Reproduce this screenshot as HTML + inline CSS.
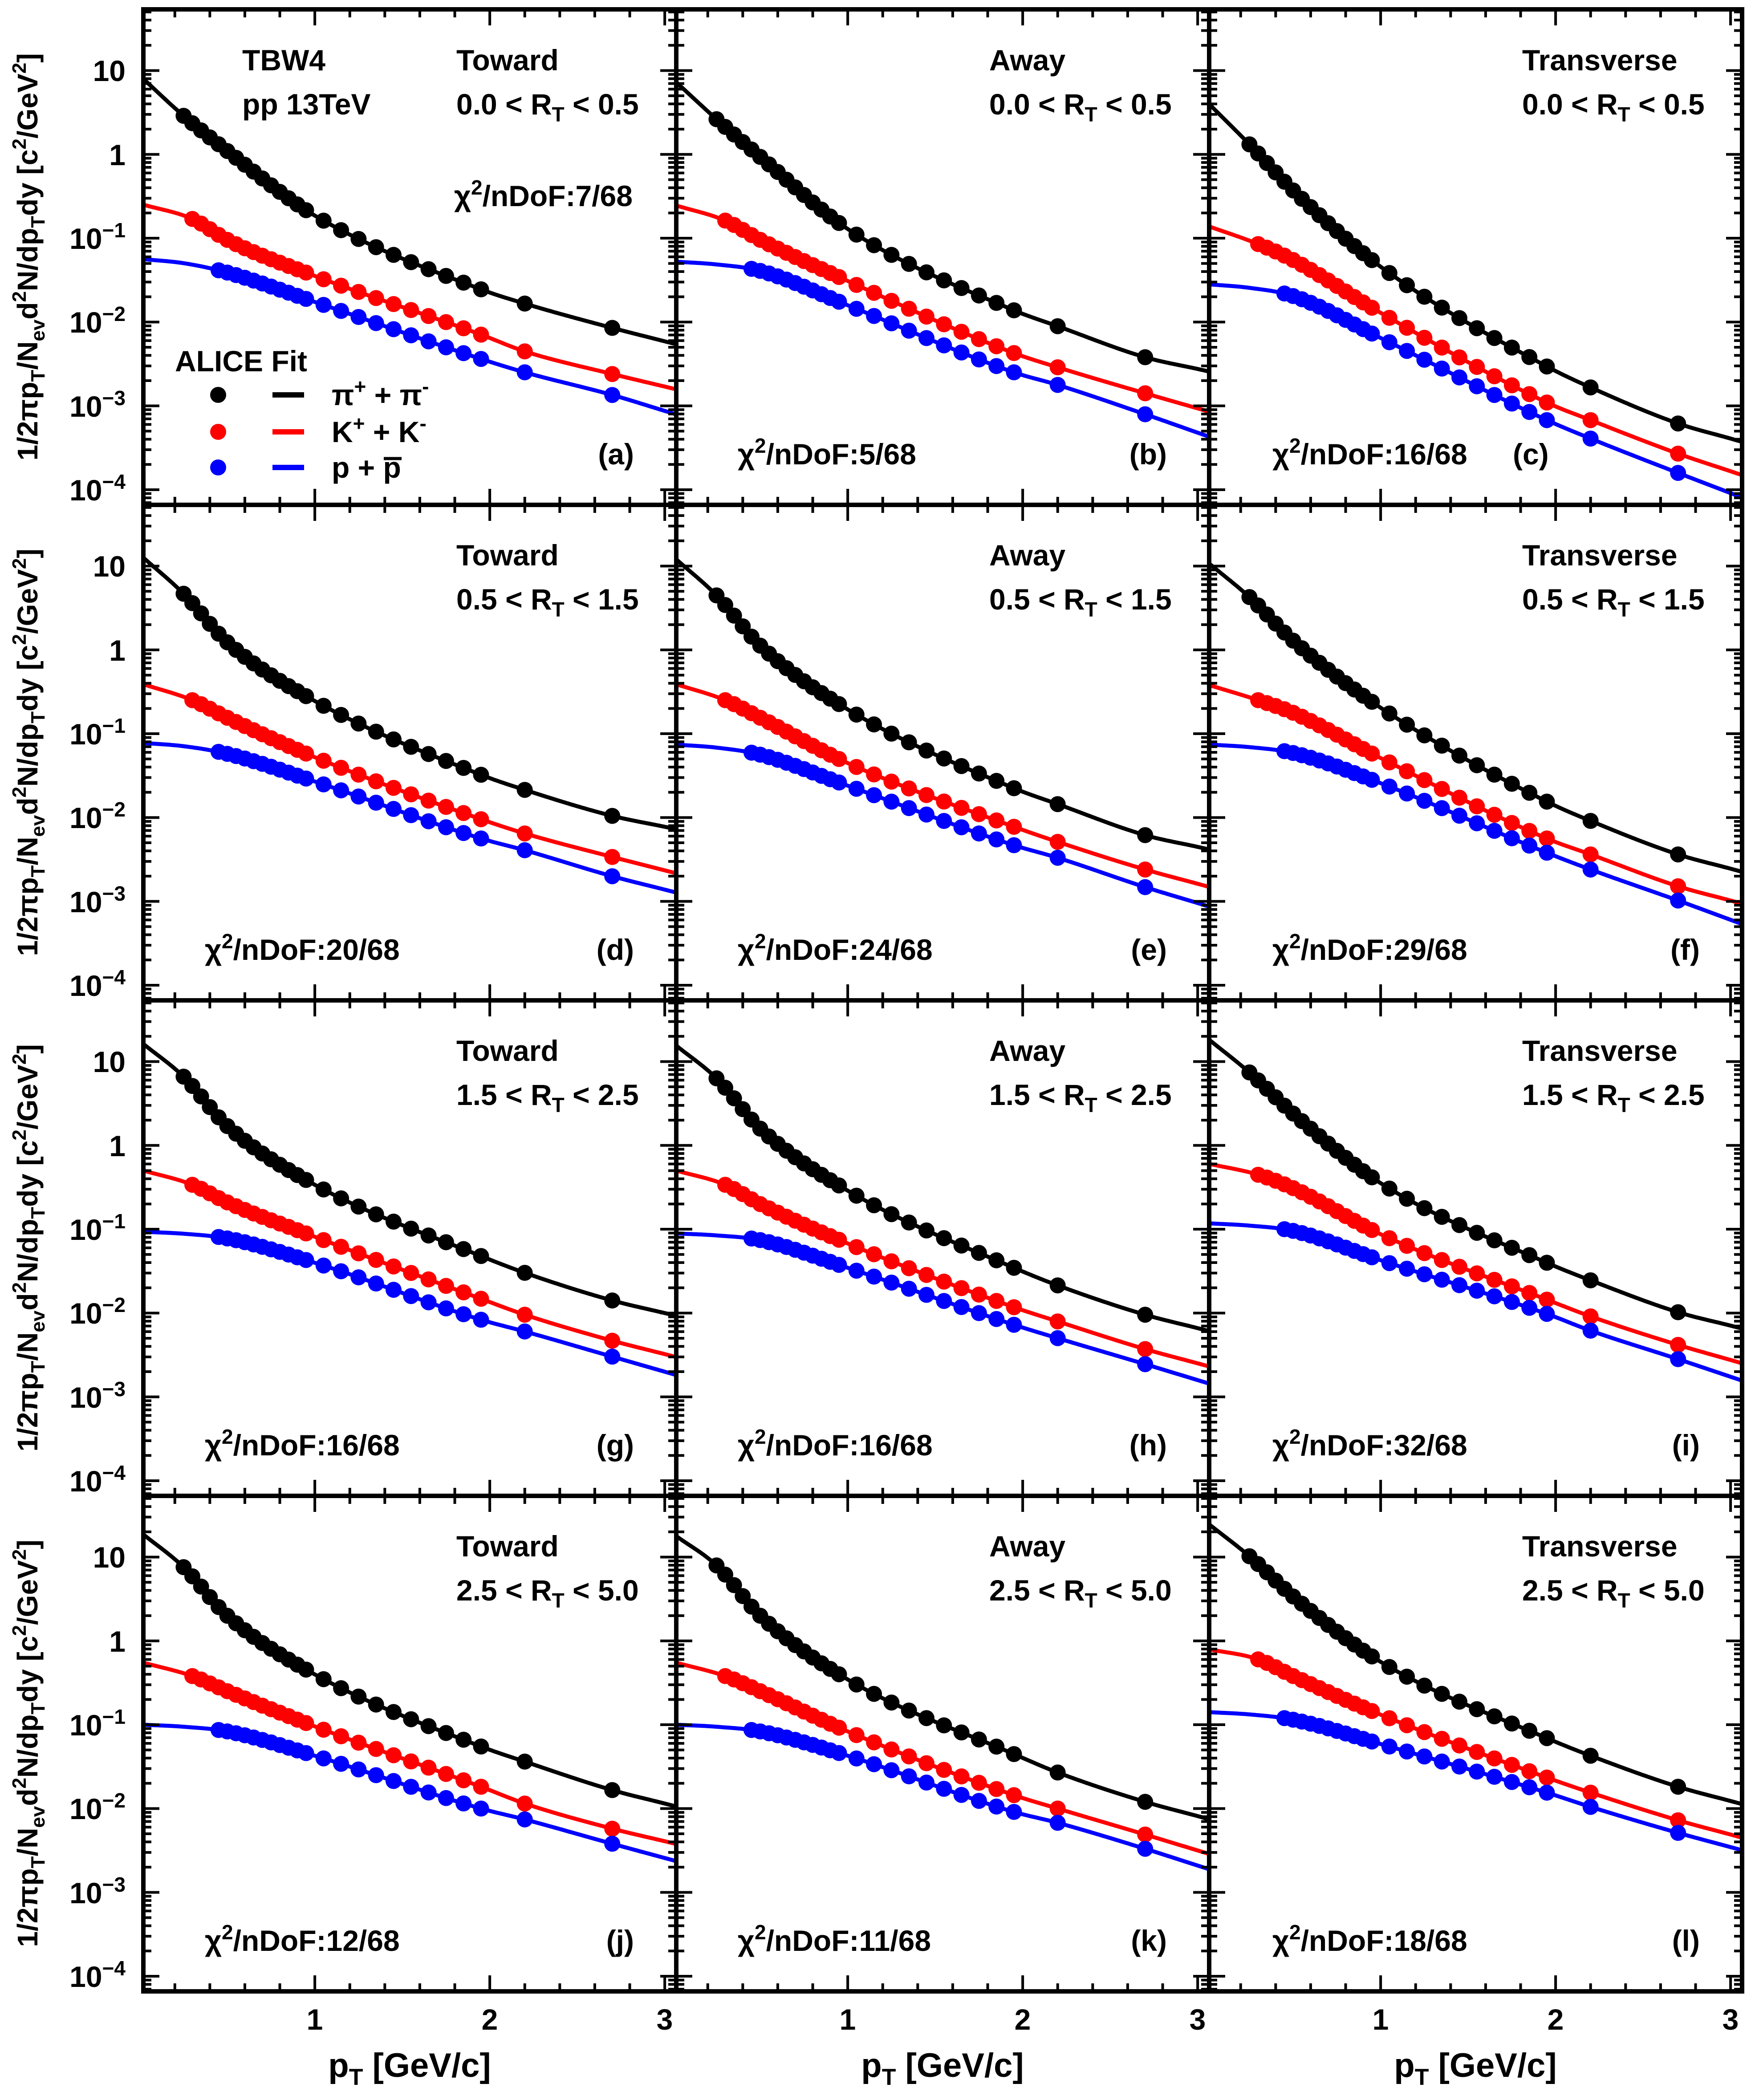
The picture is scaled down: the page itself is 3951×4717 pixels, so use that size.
<!DOCTYPE html>
<html><head><meta charset="utf-8"><style>
html,body{margin:0;padding:0;background:#fff;}
svg{display:block;}
text{font-family:"Liberation Sans",Arial,sans-serif;font-weight:bold;fill:#000;}
</style></head><body>
<svg id="s" xmlns="http://www.w3.org/2000/svg" width="3951" height="4717" viewBox="0 0 3951 4717">
<rect width="3951" height="4717" fill="#fff"/>
<g id="plot"></g>
<g font-size="66">
<text x="1025" y="158">Toward</text><text x="1025" y="257">0.0 &lt; R<tspan dy="16" font-size="46">T</tspan><tspan dy="-16"> &lt; 0.5</tspan></text>
<text x="2222" y="158">Away</text><text x="2222" y="257">0.0 &lt; R<tspan dy="16" font-size="46">T</tspan><tspan dy="-16"> &lt; 0.5</tspan></text>
<text x="3419" y="158">Transverse</text><text x="3419" y="257">0.0 &lt; R<tspan dy="16" font-size="46">T</tspan><tspan dy="-16"> &lt; 0.5</tspan></text>

<text x="1025" y="1270">Toward</text><text x="1025" y="1369">0.5 &lt; R<tspan dy="16" font-size="46">T</tspan><tspan dy="-16"> &lt; 1.5</tspan></text>
<text x="2222" y="1270">Away</text><text x="2222" y="1369">0.5 &lt; R<tspan dy="16" font-size="46">T</tspan><tspan dy="-16"> &lt; 1.5</tspan></text>
<text x="3419" y="1270">Transverse</text><text x="3419" y="1369">0.5 &lt; R<tspan dy="16" font-size="46">T</tspan><tspan dy="-16"> &lt; 1.5</tspan></text>

<text x="1025" y="2383">Toward</text><text x="1025" y="2482">1.5 &lt; R<tspan dy="16" font-size="46">T</tspan><tspan dy="-16"> &lt; 2.5</tspan></text>
<text x="2222" y="2383">Away</text><text x="2222" y="2482">1.5 &lt; R<tspan dy="16" font-size="46">T</tspan><tspan dy="-16"> &lt; 2.5</tspan></text>
<text x="3419" y="2383">Transverse</text><text x="3419" y="2482">1.5 &lt; R<tspan dy="16" font-size="46">T</tspan><tspan dy="-16"> &lt; 2.5</tspan></text>

<text x="1025" y="3496">Toward</text><text x="1025" y="3595">2.5 &lt; R<tspan dy="16" font-size="46">T</tspan><tspan dy="-16"> &lt; 5.0</tspan></text>
<text x="2222" y="3496">Away</text><text x="2222" y="3595">2.5 &lt; R<tspan dy="16" font-size="46">T</tspan><tspan dy="-16"> &lt; 5.0</tspan></text>
<text x="3419" y="3496">Transverse</text><text x="3419" y="3595">2.5 &lt; R<tspan dy="16" font-size="46">T</tspan><tspan dy="-16"> &lt; 5.0</tspan></text>

<text x="544" y="158">TBW4</text><text x="544" y="257">pp 13TeV</text>

<text x="1020" y="463">χ<tspan dy="-26" font-size="46">2</tspan><tspan dy="26">/nDoF:7/68</tspan></text>
<text x="1657" y="1043">χ<tspan dy="-26" font-size="46">2</tspan><tspan dy="26">/nDoF:5/68</tspan></text>
<text x="2858" y="1043">χ<tspan dy="-26" font-size="46">2</tspan><tspan dy="26">/nDoF:16/68</tspan></text>
<text x="460" y="2156">χ<tspan dy="-26" font-size="46">2</tspan><tspan dy="26">/nDoF:20/68</tspan></text>
<text x="1657" y="2156">χ<tspan dy="-26" font-size="46">2</tspan><tspan dy="26">/nDoF:24/68</tspan></text>
<text x="2858" y="2156">χ<tspan dy="-26" font-size="46">2</tspan><tspan dy="26">/nDoF:29/68</tspan></text>
<text x="460" y="3269">χ<tspan dy="-26" font-size="46">2</tspan><tspan dy="26">/nDoF:16/68</tspan></text>
<text x="1657" y="3269">χ<tspan dy="-26" font-size="46">2</tspan><tspan dy="26">/nDoF:16/68</tspan></text>
<text x="2858" y="3269">χ<tspan dy="-26" font-size="46">2</tspan><tspan dy="26">/nDoF:32/68</tspan></text>
<text x="460" y="4382">χ<tspan dy="-26" font-size="46">2</tspan><tspan dy="26">/nDoF:12/68</tspan></text>
<text x="1657" y="4382">χ<tspan dy="-26" font-size="46">2</tspan><tspan dy="26">/nDoF:11/68</tspan></text>
<text x="2858" y="4382">χ<tspan dy="-26" font-size="46">2</tspan><tspan dy="26">/nDoF:18/68</tspan></text>

<text x="1424" y="1043" text-anchor="end">(a)</text>
<text x="2621" y="1043" text-anchor="end">(b)</text>
<text x="3398" y="1043">(c)</text>
<text x="1424" y="2156" text-anchor="end">(d)</text>
<text x="2621" y="2156" text-anchor="end">(e)</text>
<text x="3818" y="2156" text-anchor="end">(f)</text>
<text x="1424" y="3269" text-anchor="end">(g)</text>
<text x="2621" y="3269" text-anchor="end">(h)</text>
<text x="3818" y="3269" text-anchor="end">(i)</text>
<text x="1424" y="4382" text-anchor="end">(j)</text>
<text x="2621" y="4382" text-anchor="end">(k)</text>
<text x="3818" y="4382" text-anchor="end">(l)</text>

<text x="393" y="834">ALICE  Fit</text>
<text x="745" y="910">π<tspan dy="-26" font-size="46">+</tspan><tspan dy="26"> + π</tspan><tspan dy="-26" font-size="46">-</tspan></text>
<text x="745" y="993">K<tspan dy="-26" font-size="46">+</tspan><tspan dy="26"> + K</tspan><tspan dy="-26" font-size="46">-</tspan></text>
<text x="745" y="1073">p + p</text>
</g>
<line x1="862" y1="1030" x2="902" y2="1030" stroke="#000" stroke-width="7"/>

<g font-size="66" text-anchor="end">
<text x="282" y="182">10</text><text x="282" y="371">1</text>
<text x="282" y="559">10<tspan dy="-26" font-size="46">−1</tspan></text>
<text x="282" y="747">10<tspan dy="-26" font-size="46">−2</tspan></text>
<text x="282" y="936">10<tspan dy="-26" font-size="46">−3</tspan></text>
<text x="282" y="1124">10<tspan dy="-26" font-size="46">−4</tspan></text>

<text x="282" y="1295">10</text><text x="282" y="1484">1</text>
<text x="282" y="1672">10<tspan dy="-26" font-size="46">−1</tspan></text>
<text x="282" y="1860">10<tspan dy="-26" font-size="46">−2</tspan></text>
<text x="282" y="2049">10<tspan dy="-26" font-size="46">−3</tspan></text>
<text x="282" y="2237">10<tspan dy="-26" font-size="46">−4</tspan></text>

<text x="282" y="2408">10</text><text x="282" y="2597">1</text>
<text x="282" y="2785">10<tspan dy="-26" font-size="46">−1</tspan></text>
<text x="282" y="2973">10<tspan dy="-26" font-size="46">−2</tspan></text>
<text x="282" y="3162">10<tspan dy="-26" font-size="46">−3</tspan></text>
<text x="282" y="3350">10<tspan dy="-26" font-size="46">−4</tspan></text>

<text x="282" y="3521">10</text><text x="282" y="3710">1</text>
<text x="282" y="3898">10<tspan dy="-26" font-size="46">−1</tspan></text>
<text x="282" y="4086">10<tspan dy="-26" font-size="46">−2</tspan></text>
<text x="282" y="4275">10<tspan dy="-26" font-size="46">−3</tspan></text>
<text x="282" y="4463">10<tspan dy="-26" font-size="46">−4</tspan></text>
</g>

<g font-size="66" text-anchor="middle">
<text x="707" y="4559">1</text><text x="1100" y="4559">2</text><text x="1493" y="4559">3</text>
<text x="1904" y="4559">1</text><text x="2297" y="4559">2</text><text x="2690" y="4559">3</text>
<text x="3101" y="4559">1</text><text x="3494" y="4559">2</text><text x="3887" y="4559">3</text>
</g>
<g font-size="76" text-anchor="middle">
<text x="920" y="4665">p<tspan dy="18" font-size="52">T</tspan><tspan dy="-18"> [GeV/c]</tspan></text>
<text x="2117" y="4665">p<tspan dy="18" font-size="52">T</tspan><tspan dy="-18"> [GeV/c]</tspan></text>
<text x="3314" y="4665">p<tspan dy="18" font-size="52">T</tspan><tspan dy="-18"> [GeV/c]</tspan></text>
</g>

<g font-size="64" text-anchor="middle">
<text transform="translate(84,577) rotate(-90)">1/2πp<tspan dy="16" font-size="44">T</tspan><tspan dy="-16">/N</tspan><tspan dy="16" font-size="44">ev</tspan><tspan dy="-16">d</tspan><tspan dy="-26" font-size="44">2</tspan><tspan dy="26">N/dp</tspan><tspan dy="16" font-size="44">T</tspan><tspan dy="-16">dy [c</tspan><tspan dy="-26" font-size="44">2</tspan><tspan dy="26">/GeV</tspan><tspan dy="-26" font-size="44">2</tspan><tspan dy="26">]</tspan></text>
<text transform="translate(84,1690) rotate(-90)">1/2πp<tspan dy="16" font-size="44">T</tspan><tspan dy="-16">/N</tspan><tspan dy="16" font-size="44">ev</tspan><tspan dy="-16">d</tspan><tspan dy="-26" font-size="44">2</tspan><tspan dy="26">N/dp</tspan><tspan dy="16" font-size="44">T</tspan><tspan dy="-16">dy [c</tspan><tspan dy="-26" font-size="44">2</tspan><tspan dy="26">/GeV</tspan><tspan dy="-26" font-size="44">2</tspan><tspan dy="26">]</tspan></text>
<text transform="translate(84,2803) rotate(-90)">1/2πp<tspan dy="16" font-size="44">T</tspan><tspan dy="-16">/N</tspan><tspan dy="16" font-size="44">ev</tspan><tspan dy="-16">d</tspan><tspan dy="-26" font-size="44">2</tspan><tspan dy="26">N/dp</tspan><tspan dy="16" font-size="44">T</tspan><tspan dy="-16">dy [c</tspan><tspan dy="-26" font-size="44">2</tspan><tspan dy="26">/GeV</tspan><tspan dy="-26" font-size="44">2</tspan><tspan dy="26">]</tspan></text>
<text transform="translate(84,3916) rotate(-90)">1/2πp<tspan dy="16" font-size="44">T</tspan><tspan dy="-16">/N</tspan><tspan dy="16" font-size="44">ev</tspan><tspan dy="-16">d</tspan><tspan dy="-26" font-size="44">2</tspan><tspan dy="26">N/dp</tspan><tspan dy="16" font-size="44">T</tspan><tspan dy="-16">dy [c</tspan><tspan dy="-26" font-size="44">2</tspan><tspan dy="26">/GeV</tspan><tspan dy="-26" font-size="44">2</tspan><tspan dy="26">]</tspan></text>
</g>
</svg>
<script>
(function(){
var NS="http://www.w3.org/2000/svg";
var g=document.getElementById("plot");
var L=[322,1519,2716],T=[21,1134,2247,3360],W=1197,H=1113;
function X(c,v){return L[c]+(v-0.02)*393;}
function Y(r,lv){return T[r]+(1.73-lv)*188.3;}
function el(n,a){var e=document.createElementNS(NS,n);for(var k in a)e.setAttribute(k,a[k]);g.appendChild(e);return e;}
function mono(xs,ys){
 var n=xs.length,d=[],m=[];
 for(var i=0;i<n-1;i++)d.push((ys[i+1]-ys[i])/(xs[i+1]-xs[i]));
 m[0]=d[0];m[n-1]=d[n-2];
 for(var i=1;i<n-1;i++){m[i]=(d[i-1]*d[i]<=0)?0:(d[i-1]+d[i])/2;}
 for(var i=0;i<n-1;i++){if(d[i]==0){m[i]=m[i+1]=0;continue;}var a=m[i]/d[i],b=m[i+1]/d[i],s=a*a+b*b;if(s>9){var t=3/Math.sqrt(s);m[i]=t*a*d[i];m[i+1]=t*b*d[i];}}
 return function(x){
  if(x>=xs[n-1])return ys[n-1]+d[n-2]*(x-xs[n-1]);
  if(x<=xs[0])return ys[0];
  var i=0;while(x>xs[i+1])i++;
  var h=xs[i+1]-xs[i],t=(x-xs[i])/h,t2=t*t,t3=t2*t;
  return (2*t3-3*t2+1)*ys[i]+(t3-2*t2+t)*h*m[i]+(-2*t3+3*t2)*ys[i+1]+(t3-t2)*h*m[i+1];
 };
}
var XK=[0.02,0.25,0.5,1,1.95,2.2,2.7,3.0],XR=[0.02,0.3,0.5,1,1.95,2.2,2.7,3.0],XP=[0.02,0.25,0.5,1,1.95,2.2,2.7,3.0];
var D=[
[[0.90,0.46,0.04,-0.73,-1.61,-1.78,-2.07,-2.23],[-0.60,-0.77,-1.02,-1.45,-2.15,-2.35,-2.62,-2.77],[-1.25,-1.41,-1.76,-2.44,-2.60,-2.87,-3.06]],
[[0.86,0.42,-0.03,-0.89,-1.86,-2.05,-2.42,-2.56],[-0.61,-0.79,-1.02,-1.51,-2.37,-2.54,-2.85,-3.03],[-1.28,-1.39,-1.80,-2.60,-2.75,-3.10,-3.32]],
[[0.60,0.12,-0.43,-1.34,-2.53,-2.78,-3.21,-3.39],[-0.86,-1.07,-1.26,-1.89,-2.96,-3.17,-3.57,-3.78],[-1.55,-1.69,-2.19,-3.17,-3.39,-3.80,-4.04]],
[[1.10,0.67,0.09,-0.61,-1.49,-1.67,-1.98,-2.11],[-0.41,-0.60,-0.81,-1.28,-2.02,-2.19,-2.47,-2.63],[-1.11,-1.24,-1.57,-2.25,-2.39,-2.70,-2.86]],
[[1.08,0.65,0.05,-0.71,-1.65,-1.84,-2.21,-2.35],[-0.41,-0.60,-0.81,-1.35,-2.11,-2.29,-2.62,-2.79],[-1.13,-1.25,-1.62,-2.33,-2.48,-2.83,-3.02]],
[[1.03,0.63,0.11,-0.69,-1.81,-2.04,-2.44,-2.61],[-0.42,-0.60,-0.75,-1.29,-2.25,-2.44,-2.82,-2.99],[-1.13,-1.23,-1.59,-2.42,-2.62,-2.99,-3.22]],
[[1.21,0.82,0.23,-0.47,-1.32,-1.52,-1.85,-2.00],[-0.30,-0.47,-0.68,-1.09,-1.83,-2.02,-2.33,-2.49],[-1.03,-1.11,-1.40,-2.08,-2.22,-2.52,-2.70]],
[[1.19,0.80,0.20,-0.54,-1.46,-1.67,-2.02,-2.18],[-0.30,-0.47,-0.70,-1.17,-1.93,-2.10,-2.43,-2.60],[-1.05,-1.13,-1.46,-2.14,-2.30,-2.61,-2.80]],
[[1.26,0.87,0.38,-0.45,-1.40,-1.61,-1.99,-2.15],[-0.22,-0.35,-0.51,-1.06,-1.84,-2.04,-2.38,-2.56],[-0.93,-1.02,-1.37,-2.01,-2.21,-2.55,-2.76]],
[[1.27,0.88,0.30,-0.40,-1.26,-1.44,-1.78,-1.94],[-0.26,-0.42,-0.60,-1.02,-1.74,-1.94,-2.24,-2.39],[-1.00,-1.08,-1.37,-2.00,-2.13,-2.42,-2.59]],
[[1.25,0.90,0.30,-0.46,-1.35,-1.57,-1.92,-2.09],[-0.26,-0.42,-0.60,-1.08,-1.84,-2.00,-2.31,-2.50],[-1.00,-1.08,-1.37,-2.04,-2.17,-2.48,-2.68]],
[[1.39,1.01,0.53,-0.25,-1.16,-1.37,-1.74,-1.91],[-0.10,-0.22,-0.42,-0.88,-1.63,-1.81,-2.14,-2.31],[-0.85,-0.94,-1.23,-1.81,-1.98,-2.29,-2.46]]
];
var cols=["#000","#f00","#00f"];
function pts(start){var a=[];for(var v=start;v<0.97;v+=0.05)a.push(v);for(var v=1.05;v<1.99;v+=0.1)a.push(v);a.push(2.2,2.7);return a;}
var PT=[pts(0.25),pts(0.3),pts(0.45)];
var defs=el("defs",{});
for(var p=0;p<12;p++){
 var r=Math.floor(p/3),c=p%3;
 var cp=document.createElementNS(NS,"clipPath");cp.setAttribute("id","c"+p);
 var rc=document.createElementNS(NS,"rect");rc.setAttribute("x",L[c]);rc.setAttribute("y",T[r]);rc.setAttribute("width",W);rc.setAttribute("height",H);
 cp.appendChild(rc);defs.appendChild(cp);
 var gp=el("g",{"clip-path":"url(#c"+p+")"});
 for(var s=0;s<3;s++){
  var ys=D[p][s].slice(),xs;
  if(s==0)xs=XK;else if(s==1)xs=XR;else{xs=XP;ys.splice(1,0,ys[0]+0.3*(ys[1]-ys[0]));}
  var f=mono(xs,ys);
  var d="";
  for(var v=0.02;v<=3.08;v+=0.01){d+=(d?"L":"M")+X(c,v).toFixed(1)+" "+Y(r,f(v)).toFixed(1);}
  var pa=document.createElementNS(NS,"path");pa.setAttribute("d",d);pa.setAttribute("fill","none");pa.setAttribute("stroke",cols[s]);pa.setAttribute("stroke-width","9");gp.appendChild(pa);
  PT[s].forEach(function(v){var ci=document.createElementNS(NS,"circle");ci.setAttribute("cx",X(c,v).toFixed(1));ci.setAttribute("cy",Y(r,f(v)).toFixed(1));ci.setAttribute("r","18");ci.setAttribute("fill",cols[s]);gp.appendChild(ci);});
 }
 var d2="";
 for(var k=1;k<=15;k++){var v=k*0.2;var xx=X(c,v);if(xx>L[c]+W)continue;var len=(k%5==0)?36:18;
  d2+="M"+xx+" "+(T[r]+H)+"v"+(-len)+"M"+xx+" "+T[r]+"v"+len;}
 for(var dec=-5;dec<=1;dec++){for(var k=1;k<=9;k++){var lv=dec+Math.log10(k);if(lv<-4.18||lv>1.73)continue;var yy=Y(r,lv);var len=(k==1)?36:18;
  d2+="M"+L[c]+" "+yy+"h"+len+"M"+(L[c]+W)+" "+yy+"h"+(-len);}}
 el("path",{d:d2,stroke:"#000","stroke-width":"6",fill:"none"});
 el("rect",{x:L[c],y:T[r],width:W,height:H,fill:"none",stroke:"#000","stroke-width":"10"});
}
var lg=[[887,"#000"],[970,"#f00"],[1050,"#00f"]];
lg.forEach(function(a){el("circle",{cx:490,cy:a[0],r:18,fill:a[1]});el("line",{x1:612,y1:a[0],x2:683,y2:a[0],stroke:a[1],"stroke-width":"12"});});
})();
</script>
</body></html>
